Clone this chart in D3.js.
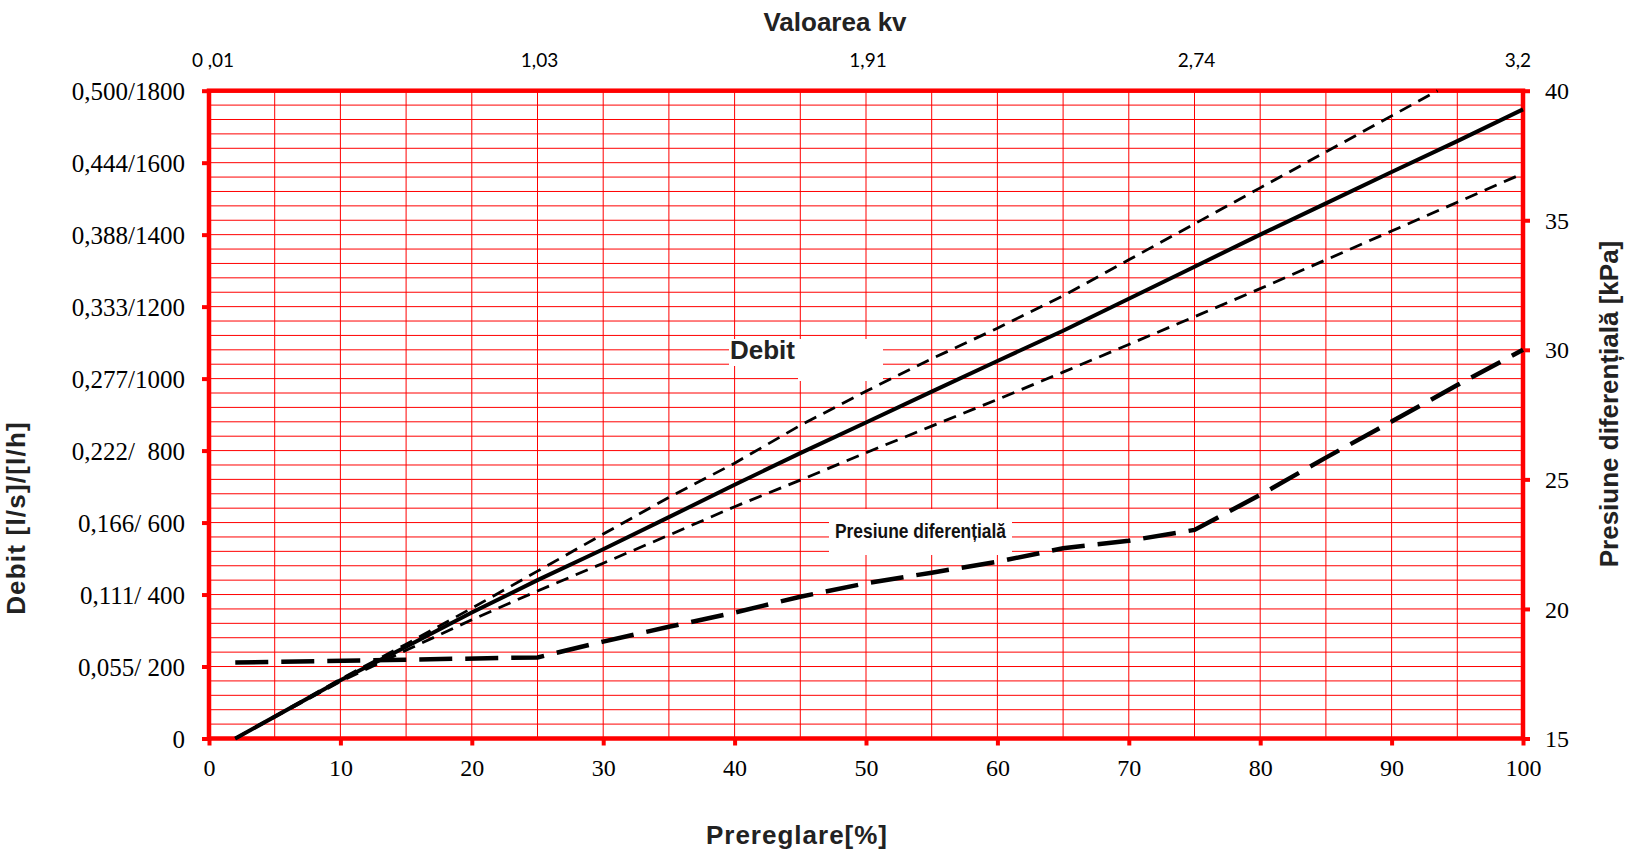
<!DOCTYPE html>
<html>
<head>
<meta charset="utf-8">
<script src="https://cdn.jsdelivr.net/npm/d3@7"></script>
<style>
  html, body { margin: 0; padding: 0; background: #fff; }
  svg { display: block; }
</style>
</head>
<body>
<svg id="chart" width="1631" height="854"></svg>
<script>
// Preregulation [%] against flow (left axis) and differential pressure (right axis)

// Flow curves [l/h]
const debitX       = [2, 10, 15, 20, 25, 30, 35, 40, 45, 50, 55, 60, 65, 70, 75, 80, 85, 90, 95, 100];
const debitNominal = [0, 162, 255, 350, 440, 526, 615, 705, 793, 878, 964, 1049, 1133, 1222, 1311, 1400, 1487, 1574, 1660, 1748];
const debitUpperX  = [2, 10, 15, 20, 25, 30, 35, 40, 45, 50, 55, 60, 65, 70, 75, 80, 85, 90, 93.5];
const debitUpper   = [0, 165, 262, 362, 465, 568, 670, 765, 870, 965, 1055, 1140, 1230, 1330, 1430, 1530, 1630, 1730, 1800];
const debitLowerX  = [2, 10, 15, 20, 25, 30, 35, 40, 45, 50, 55, 60, 65, 70, 75, 80, 85, 90, 95, 100];
const debitLower   = [0, 158, 245, 330, 410, 487, 565, 644, 718, 794, 868, 942, 1018, 1095, 1172, 1250, 1330, 1410, 1490, 1570];

// Differential pressure [kPa]
const pressureX = [2, 25, 30, 35, 40, 45, 50, 55, 60, 65, 70, 75, 80, 85, 90, 95, 100];
const pressure  = [17.93, 18.13, 18.74, 19.31, 19.86, 20.47, 20.99, 21.40, 21.82, 22.34, 22.63, 23.05, 24.40, 25.84, 27.23, 28.64, 30.0];

// Axis ticks and labels
const bottomTicks = [0, 10, 20, 30, 40, 50, 60, 70, 80, 90, 100];
const leftTicks = [0, 200, 400, 600, 800, 1000, 1200, 1400, 1600, 1800];
const leftTickLabels = ["0", "0,055/ 200", "0,111/ 400", "0,166/ 600", "0,222/  800",
                        "0,277/1000", "0,333/1200", "0,388/1400", "0,444/1600", "0,500/1800"];
const rightTicks = [15, 20, 25, 30, 35, 40];
const kvTickPos = [0, 25, 50, 75, 100];
const kvTickLabels = ["0 ,01", "1,03", "1,91", "2,74", "3,2"];

const RED = "#ff0000";
const svg = d3.select("#chart");

const plot = { left: 209, right: 1523, top: 90.7, bottom: 738.5 };

const x  = d3.scaleLinear().domain([0, 100]).range([plot.left, plot.right]);
const yL = d3.scaleLinear().domain([0, 1800]).range([plot.bottom, plot.top]);
const yR = d3.scaleLinear().domain([15, 40]).range([plot.bottom, plot.top]);

// Grid
const grid = svg.append("g").attr("stroke", RED).attr("stroke-width", 1);
grid.selectAll("line.v").data(d3.range(5, 100, 5)).join("line")
  .attr("class", "v")
  .attr("x1", d => x(d)).attr("x2", d => x(d))
  .attr("y1", plot.top).attr("y2", plot.bottom);
grid.selectAll("line.h").data(d3.range(40, 1800, 40)).join("line")
  .attr("class", "h")
  .attr("x1", plot.left).attr("x2", plot.right)
  .attr("y1", d => yL(d)).attr("y2", d => yL(d));

// Label backgrounds
const boxes = svg.append("g").attr("fill", "#fff");
boxes.append("rect").attr("x", 729).attr("y", 339).attr("width", 154).attr("height", 27);
boxes.append("rect").attr("x", 798).attr("y", 366).attr("width", 85).attr("height", 15);
boxes.append("rect").attr("x", 829).attr("y", 509).attr("width", 183).attr("height", 46);

// Plot frame
svg.append("rect")
  .attr("x", plot.left).attr("y", plot.top)
  .attr("width", plot.right - plot.left).attr("height", plot.bottom - plot.top)
  .attr("fill", "none").attr("stroke", RED).attr("stroke-width", 4.5);

function styleAxis(g, fontSize) {
  g.select(".domain").remove();
  g.selectAll(".tick line").attr("stroke", RED).attr("stroke-width", 4);
  g.selectAll(".tick text")
    .attr("fill", "#000")
    .style("font-family", "'Liberation Serif', 'Times New Roman', serif")
    .style("font-size", fontSize + "px")
    .style("white-space", "pre");
}

// Left axis: flow
const gLeft = svg.append("g").attr("transform", `translate(${plot.left},0)`)
  .call(d3.axisLeft(yL).tickValues(leftTicks).tickSize(7).tickSizeOuter(0).tickPadding(17)
    .tickFormat((d, i) => leftTickLabels[i]));
styleAxis(gLeft, 25);
gLeft.selectAll(".tick text").attr("dy", "0.34em");

// Bottom axis: preregulation
const gBottom = svg.append("g").attr("transform", `translate(0,${plot.bottom})`)
  .call(d3.axisBottom(x).tickValues(bottomTicks).tickSize(7).tickSizeOuter(0));
styleAxis(gBottom, 24);
gBottom.selectAll(".tick text").attr("y", 37).attr("dy", 0);

// Right axis: differential pressure
const gRight = svg.append("g").attr("transform", `translate(${plot.right},0)`)
  .call(d3.axisRight(yR).tickValues(rightTicks).tickSize(7).tickSizeOuter(0).tickPadding(15));
styleAxis(gRight, 24);
gRight.selectAll(".tick text").attr("dy", "0.34em");

// Top labels: kv values
svg.append("g").selectAll("text").data(kvTickPos).join("text")
  .attr("x", (d, i) => i === kvTickPos.length - 1 ? x(d) + 8 : x(d) + (i === 0 ? 4 : 2))
  .attr("y", 67)
  .attr("text-anchor", (d, i) => i === kvTickPos.length - 1 ? "end" : "middle")
  .style("font-family", "Lato, 'Open Sans', sans-serif")
  .style("font-size", "19px")
  .style("white-space", "pre")
  .attr("fill", "#000")
  .text((d, i) => kvTickLabels[i]);

// Curves
const line = d3.line().x(d => x(d[0]));
const curves = svg.append("g").attr("fill", "none").attr("stroke", "#000");

curves.append("path")
  .attr("d", line.y(d => yL(d[1]))(d3.zip(debitUpperX, debitUpper)))
  .attr("stroke-width", 2.8).attr("stroke-dasharray", "13,8");
curves.append("path")
  .attr("d", line.y(d => yL(d[1]))(d3.zip(debitLowerX, debitLower)))
  .attr("stroke-width", 2.8).attr("stroke-dasharray", "13,8");
curves.append("path")
  .attr("d", line.y(d => yL(d[1]))(d3.zip(debitX, debitNominal)))
  .attr("stroke-width", 4);
curves.append("path")
  .attr("d", line.y(d => yR(d[1]))(d3.zip(pressureX, pressure)))
  .attr("stroke-width", 4.5).attr("stroke-dasharray", "33,13");

// Titles
const sans = "'Liberation Sans', Arial, sans-serif";
svg.append("text")
  .attr("x", 835).attr("y", 31).attr("text-anchor", "middle")
  .style("font-family", sans).style("font-weight", "bold").style("font-size", "26px")
  .attr("fill", "#222").text("Valoarea kv");

svg.append("text")
  .attr("x", 797).attr("y", 844).attr("text-anchor", "middle")
  .style("font-family", sans).style("font-weight", "bold").style("font-size", "26px")
  .style("letter-spacing", "1px")
  .attr("fill", "#222").text("Prereglare[%]");

svg.append("text")
  .attr("transform", "translate(25,518) rotate(-90)").attr("text-anchor", "middle")
  .style("font-family", sans).style("font-weight", "bold").style("font-size", "26px")
  .style("letter-spacing", "1.2px")
  .attr("fill", "#222").text("Debit [l/s]/[l/h]");

svg.append("text")
  .attr("transform", "translate(1618,404) rotate(-90)").attr("text-anchor", "middle")
  .style("font-family", sans).style("font-weight", "bold").style("font-size", "26px")
  .attr("fill", "#222").text("Presiune diferențială [kPa]");

// In-plot labels
svg.append("text")
  .attr("x", 730).attr("y", 359)
  .style("font-family", sans).style("font-weight", "bold").style("font-size", "26px")
  .attr("fill", "#222").text("Debit");

svg.append("text")
  .attr("x", 835).attr("y", 538)
  .attr("textLength", 171).attr("lengthAdjust", "spacingAndGlyphs")
  .style("font-family", sans).style("font-weight", "bold").style("font-size", "21px")
  .attr("fill", "#111").text("Presiune diferențială");
</script>
</body>
</html>
